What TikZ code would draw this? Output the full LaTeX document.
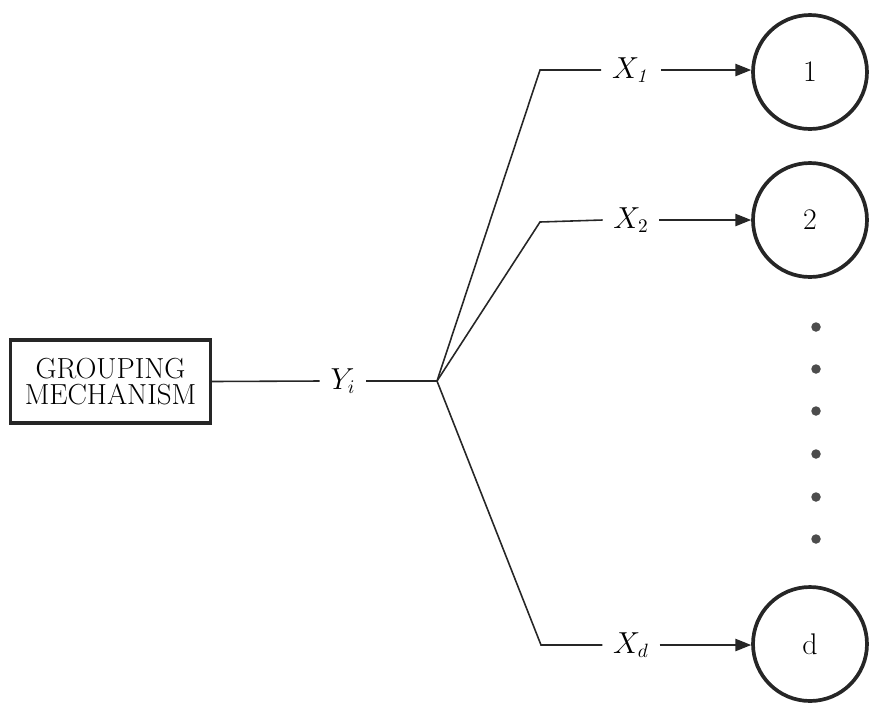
\documentclass[tikz,border=0pt]{standalone}
\usetikzlibrary{arrows.meta}
\begin{document}
\begin{tikzpicture}[x=0.02cm,y=-0.02cm,
  ink/.style={black!85},
  conn/.style={ink,line width=0.9pt},
  arr/.style={conn,-{Triangle[length=9pt,width=7pt]}},
  gbox/.style={draw=black!85,line width=2pt,minimum width=4.0cm,minimum height=1.66cm,align=center,inner sep=2pt,font=\fontsize{16.5}{18}\selectfont},
  unit/.style={circle,draw=black!85,line width=2.1pt,minimum size=2.28cm,inner sep=0pt,font=\fontsize{17}{19}\selectfont},
  lab/.style={inner xsep=6pt,inner ysep=2pt,font=\fontsize{16}{18}\selectfont},
  dot/.style={circle,fill=black!70,inner sep=0pt,minimum size=0.19cm}]
\useasboundingbox (0,0) rectangle (869,708);
\node[gbox] (gm) at (110.5,381.5) {GROUPING\\[-3pt]MECHANISM};
\node[lab] (yl) at (343,381) {$Y_i$};
\coordinate (j) at (437,381);
\coordinate (b1) at (540,70);
\coordinate (b2) at (540,222);
\coordinate (bd) at (541,645);
\node[lab] (x1) at (631,70) {$X_{\mathit{1}}$};
\node[lab] (x2) at (631,220) {$X_2$};
\node[lab] (xd) at (631,645) {$X_d$};
\node[unit] (c1) at (810,72) {1};
\node[unit] (c2) at (810,220) {2};
\node[unit] (cd) at (810,644) {d};
\foreach \k/\yy in {1/327,2/369,3/411,4/454,5/497,6/539}
  \node[dot] (d\k) at (816,\yy) {};
\draw[conn] (gm.east) -- (yl.west);
\draw[conn] (yl.east) -- (j);
\draw[conn] (j) -- (b1) -- (x1.west);
\draw[conn] (j) -- (b2) -- (x2.west);
\draw[conn] (j) -- (bd) -- (xd.west);
\draw[arr] (x1.east) -- (x1.east -| c1.west);
\draw[arr] (x2.east) -- (x2.east -| c2.west);
\draw[arr] (xd.east) -- (xd.east -| cd.west);
\end{tikzpicture}
\end{document}
